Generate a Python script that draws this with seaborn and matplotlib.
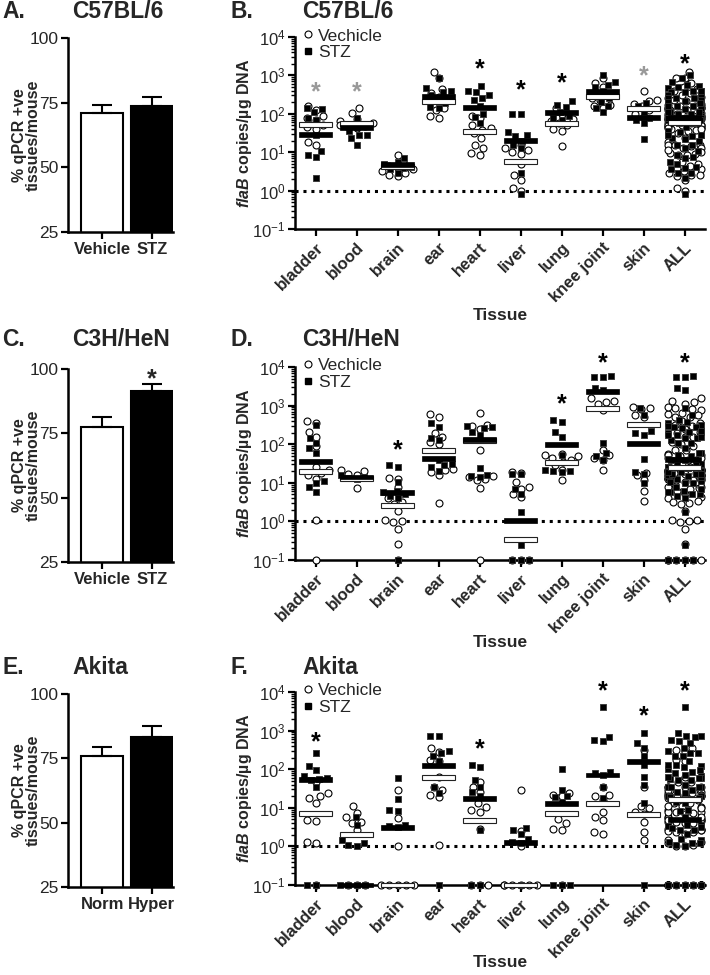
import numpy as np
import pandas as pd
import matplotlib
matplotlib.use('Agg')
import matplotlib.pyplot as plt
import seaborn as sns
from matplotlib.lines import Line2D
from matplotlib.ticker import LogLocator, NullFormatter

sns.set_style('ticks')
plt.rcParams['font.family'] = ['Liberation Sans', 'DejaVu Sans']
plt.rcParams['mathtext.fontset'] = 'custom'
plt.rcParams['mathtext.rm'] = 'Liberation Sans'
plt.rcParams['mathtext.it'] = 'Liberation Sans:italic:bold'
plt.rcParams['mathtext.bf'] = 'Liberation Sans:bold'

tissues = ['bladder', 'blood', 'brain', 'ear', 'heart', 'liver', 'lung', 'knee joint', 'skin']
order = tissues + ['ALL']

# bar panels: mean and SEM of % positive tissues per mouse
ac_groups = ['Vehicle', 'STZ']
e_groups = ['Norm', 'Hyper']
a_mean = [71.1, 73.7]
a_sem = [2.9, 3.4]
c_mean = [77.3, 91.4]
c_sem = [4.2, 2.8]
e_mean = [75.9, 83.4]
e_sem = [3.5, 4.3]

# scatter panels: log10 flaB copies/ug DNA per mouse (-1 = not detected)
b_veh = {
    'bladder': [2.2, 2.1, 1.95, 1.9, 1.85, 1.7, 1.65, 1.6, 1.27, 1.2],
    'blood': [2.14, 2.03, 1.86, 1.8, 1.75, 1.72, 1.68, 1.65, 1.62],
    'brain': [0.93, 0.75, 0.65, 0.6, 0.55, 0.5, 0.45, 0.4, 0.38],
    'ear': [3.1, 2.92, 2.64, 2.55, 2.45, 2.14, 2.1, 1.95, 1.9],
    'heart': [1.95, 1.88, 1.7, 1.62, 1.58, 1.5, 1.36, 1.2, 1.12, 0.97, 0.93],
    'liver': [1.19, 1.12, 1.06, 1.0, 0.95, 0.7, 0.41, 0.28, 0.08, 0.0],
    'lung': [2.16, 2.0, 1.86, 1.8, 1.75, 1.7, 1.6, 1.55, 1.17],
    'knee joint': [2.93, 2.79, 2.7, 2.5, 2.4, 2.35, 2.24, 2.2, 2.15],
    'skin': [2.6, 2.37, 2.33, 2.25, 2.2, 2.1, 2.0, 1.95],
}
b_stz = {
    'bladder': [2.16, 2.12, 2.05, 1.9, 1.85, 1.45, 1.04, 0.94, 0.88, 0.33],
    'blood': [1.88, 1.66, 1.55, 1.46, 1.44, 1.36, 1.2],
    'brain': [0.86, 0.75, 0.68, 0.62, 0.6, 0.55, 0.45],
    'ear': [2.92, 2.66, 2.6, 2.57, 2.5, 2.4, 2.27, 2.18, 2.14],
    'heart': [2.73, 2.6, 2.57, 2.48, 2.42, 2.35, 2.2, 2.0, 1.92, 1.75],
    'liver': [2.0, 2.0, 1.52, 1.45, 1.42, 1.3, 1.2, 1.1, 0.45, -0.08],
    'lung': [2.33, 2.24, 2.18, 2.05, 1.95, 1.88, 1.85],
    'knee joint': [3.0, 2.83, 2.76, 2.7, 2.6, 2.4, 2.31, 2.2, 2.16, 2.05],
    'skin': [2.27, 2.2, 2.05, 1.9, 1.85, 1.75, 1.35],
}
b_veh_med = [1.73, 1.75, 0.62, 2.31, 1.55, 0.75, 1.75, 2.46, 2.14, 1.77]
b_stz_med = [1.45, 1.65, 0.67, 2.44, 2.17, 1.31, 2.03, 2.57, 1.9, 1.9]
b_stars = [(0, 2.73, 'grey'), (1, 2.73, 'grey'), (4, 3.35, 'k'), (5, 2.8, 'k'),
           (6, 2.98, 'k'), (8, 3.15, 'grey'), (9, 3.48, 'k')]

d_veh = {
    'bladder': [2.6, 2.54, 2.32, 2.19, 1.96, 1.4, 1.32, 1.25, 1.2, 1.1, 0.03, -1],
    'blood': [1.34, 1.3, 1.24, 1.2, 0.87],
    'brain': [1.12, 1.1, 0.88, 0.6, 0.5, 0.45, 0.26, 0.03, 0.0, -0.02, -0.2, -0.58, -1],
    'ear': [2.77, 2.71, 2.3, 2.19, 2.06, 2.0, 1.37, 1.33, 1.28, 1.2, 0.48],
    'heart': [2.81, 2.5, 2.48, 2.4, 1.84, 1.17, 1.15, 1.1, 1.07, 0.87, -1],
    'liver': [1.27, 1.25, 1.02, 0.89, 0.85, 0.7, 0.63, -1, -1, -1],
    'lung': [1.75, 1.72, 1.7, 1.65, 1.6, 1.54, 1.45, 1.32, 1.06],
    'knee joint': [3.19, 3.12, 3.1, 3.05, 2.88, 1.86, 1.72, 1.65, 1.6, 1.32],
    'skin': [2.97, 2.93, 2.9, 2.75, 2.7, 1.26, 1.2, 1.06, 0.8, 0.52],
}
d_stz = {
    'bladder': [2.49, 2.16, 2.02, 1.89, 1.77, 1.05, 1.0, 0.89, 0.76],
    'blood': [1.2, 1.15, 1.12, 1.1],
    'brain': [1.45, 1.41, 1.02, 0.8, 0.76, 0.7, 0.65, 0.6, -1],
    'ear': [2.54, 2.45, 2.16, 2.1, 1.6, 1.5, 1.45, 1.4, 1.3],
    'heart': [2.48, 2.45, 2.42, 2.32, 2.25, 1.39, 1.2, 1.18, 1.15],
    'liver': [1.24, 1.22, 0.85, 0.7, 0.24, -0.6, -1, -1, -1],
    'lung': [2.62, 2.58, 2.32, 2.19, 1.71, 1.32, 1.3, 1.28, 1.3],
    'knee joint': [3.77, 3.74, 3.75, 3.45, 3.4, 2.02, 1.76, 1.7, 1.58],
    'skin': [2.93, 2.75, 2.34, 2.28, 2.25, 1.61, 1.28, 1.24, 1.0],
}
d_veh_med = [1.3, 1.12, 0.42, 1.84, 2.1, -0.47, 1.52, 2.93, 2.51, 1.39]
d_stz_med = [1.56, 1.15, 0.76, 1.63, 2.12, 0.03, 2.0, 3.36, 2.02, 1.61]
d_stars = [(2, 2.02, 'k'), (6, 3.21, 'k'), (7, 4.27, 'k'), (9, 4.27, 'k')]

f_veh = {
    'bladder': [1.68, 1.38, 1.3, 1.25, 1.13, 0.68, 0.65, 0.12, 0.08, -1],
    'blood': [1.05, 0.86, 0.75, 0.64, 0.6, 0.42, -1, -1, -1],
    'brain': [1.46, 0.73, 0.0, -1, -1, -1, -1, -1],
    'ear': [2.55, 2.45, 2.25, 2.2, 1.81, 1.55, 1.46, 1.33, 1.27, 0.03],
    'heart': [1.68, 1.55, 1.42, 1.12, 1.03, 0.95, 0.9, 0.44, -1, -1, -1],
    'liver': [1.46, 0.4, 0.0, -1, -1, -1, -1, -1, -1],
    'lung': [1.38, 1.34, 1.3, 0.7, 0.6, 0.45, 0.42, -1],
    'knee joint': [1.55, 1.33, 1.3, 1.2, 0.9, 0.75, 0.68, 0.38, 0.32],
    'skin': [2.5, 1.55, 1.05, 1.0, 0.9, 0.85, 0.64, 0.38, 0.16],
}
f_stz = {
    'bladder': [2.42, 2.09, 1.98, 1.83, 1.78, 1.75, 1.72, 1.55, -1, -1],
    'blood': [0.75, 0.55, 0.16, 0.1, 0.03, 0.02, -1, -1, -1, -1],
    'brain': [1.77, 1.23, 0.94, 0.92, 0.55, 0.52, 0.5],
    'ear': [2.85, 2.87, 2.46, 2.42, 2.35, 2.2, 1.55, 1.38, -1],
    'heart': [2.11, 2.05, 1.71, 1.55, 1.4, 1.3, 0.42, -1, -1],
    'liver': [0.47, 0.42, 0.32, 0.2, 0.12, 0.1, -1],
    'lung': [2.0, 1.46, 1.3, 1.28, 1.15, -1, -1, -1],
    'knee joint': [3.61, 2.83, 2.75, 2.72, 1.94, 1.9, 1.85, 1.53, 1.25],
    'skin': [2.94, 2.68, 2.55, 2.33, 2.1, 1.8, 1.59, 1.12, -1],
}
f_veh_med = [0.86, 0.32, -1, 1.78, 0.67, -1, 0.86, 1.1, 0.82, 1.22]
f_stz_med = [1.74, -1, 0.48, 2.09, 1.23, 0.1, 1.1, 1.85, 2.2, 0.7]
f_stars = [(0, 2.87, 'k'), (4, 2.69, 'k'), (7, 4.19, 'k'), (8, 3.56, 'k'), (9, 4.19, 'k')]

W, H = 710, 975
fig = plt.figure(figsize=(W / 100, H / 100), dpi=100)


def px_axes(left, top, right, bottom):
    return fig.add_axes([left / W, 1 - bottom / H, (right - left) / W, (bottom - top) / H])


def style_axes(ax):
    sns.despine(ax=ax)
    for s in ['left', 'bottom']:
        ax.spines[s].set_linewidth(1.8)
        ax.spines[s].set_color('black')
    ax.tick_params(which='major', length=5, width=1.6, color='black', direction='out')


def bar_panel(ax, groups, mean, sem, star=False):
    sns.barplot(x=groups, y=mean, order=groups, palette=['white', 'black'], hue=groups,
                legend=False, width=0.84, edgecolor='black', linewidth=1.5, ax=ax)
    ax.errorbar(range(2), mean, yerr=[[0, 0], sem], fmt='none', ecolor='black',
                elinewidth=1.5, capsize=7, capthick=1.5)
    ax.set_ylim(25, 100)
    ax.set_xlim(-0.69, 1.43)
    ax.set_yticks([25, 50, 75, 100])
    style_axes(ax)
    ax.tick_params(axis='y', labelsize=12.5, pad=2)
    ax.tick_params(axis='x', labelsize=12, pad=2)
    for lab in ax.get_xticklabels():
        lab.set_fontweight('bold')
    ax.set_ylabel('% qPCR +ve\ntissues/mouse', fontsize=11.5, fontweight='bold',
                  linespacing=0.9)
    ax.yaxis.set_label_coords(-0.26, 0.5)
    ax.set_xlabel('')
    if star:
        ax.annotate('*', xy=(1, 98.5), xytext=(0, -10), textcoords='offset points',
                    ha='center', va='baseline', fontsize=18, fontweight='bold')


def scatter_panel(ax, veh, stz, veh_med, stz_med, stars, xlab_y):
    rows = []
    for t in tissues:
        for v in veh[t]:
            rows.append((t, 'Vechicle', 10 ** v))
        for v in stz[t]:
            rows.append((t, 'STZ', 10 ** v))
    df = pd.DataFrame(rows, columns=['tissue', 'group', 'copies'])
    df = pd.concat([df, df.assign(tissue='ALL')], ignore_index=True)

    ax.set_yscale('log')
    ax.set_ylim(0.1, 1e4)
    sns.swarmplot(data=df[df.group == 'Vechicle'], x='tissue', y='copies', order=order,
                  marker='o', color='white', edgecolor='black', linewidth=0.8, size=5,
                  warn_thresh=1, ax=ax)
    sns.swarmplot(data=df[df.group == 'STZ'], x='tissue', y='copies', order=order,
                  marker='s', color='black', edgecolor='#333333', linewidth=0.6, size=5,
                  warn_thresh=1, ax=ax)
    for c in ax.collections:
        c.set_clip_on(False)
        c.set_zorder(3)
    ax.set_ylim(0.1, 1e4)
    ax.set_xlim(-0.5, 9.5)

    f = 1.16
    vm = 10 ** np.array(veh_med)
    sm = 10 ** np.array(stz_med)
    ax.bar(range(len(order)), vm * f - vm / f, bottom=vm / f, width=0.82, color='white',
           edgecolor='#222222', linewidth=0.8, zorder=4, clip_on=False)
    ax.bar(range(len(order)), sm * f - sm / f, bottom=sm / f, width=0.82, color='black',
           edgecolor='black', linewidth=0.5, zorder=4, clip_on=False)
    ax.axhline(1, color='black', ls=(0, (1, 1.6)), lw=2.2, zorder=1.5)

    for i, y, col in stars:
        ax.annotate('*', xy=(i, 10 ** y), xytext=(0, -10), textcoords='offset points',
                    ha='center', va='baseline', fontsize=18, fontweight='bold',
                    color='#999999' if col == 'grey' else 'black', annotation_clip=False)

    style_axes(ax)
    ax.yaxis.set_major_locator(LogLocator(base=10, numticks=10))
    ax.yaxis.set_minor_locator(LogLocator(base=10, subs=np.arange(2, 10), numticks=10))
    ax.yaxis.set_minor_formatter(NullFormatter())
    ax.tick_params(axis='y', which='minor', length=3, width=1.0, color='black')
    ax.tick_params(axis='y', labelsize=12, pad=2)
    ax.tick_params(axis='x', pad=3)
    ax.set_xticks(range(len(order)))
    ax.set_xticklabels(order, rotation=45, ha='right', rotation_mode='anchor',
                       fontweight='bold', fontsize=12)
    ax.set_ylabel(r'$\mathit{flaB}$ copies/µg DNA', fontsize=11.5, fontweight='bold')
    ax.yaxis.set_label_coords(-0.10, 0.5)
    ax.set_xlabel('Tissue', fontsize=12.5, fontweight='bold')
    ax.xaxis.set_label_coords(0.5, xlab_y)

    handles = [Line2D([], [], marker='o', ls='none', markerfacecolor='white',
                      markeredgecolor='black', markersize=5, markeredgewidth=0.8),
               Line2D([], [], marker='s', ls='none', markerfacecolor='black',
                      markeredgecolor='black', markersize=4.5)]
    ax.legend(handles, ['Vechicle', 'STZ'], loc='upper left', bbox_to_anchor=(0.02, 1.045),
              frameon=False, fontsize=12.5, handlelength=0.6, handletextpad=0.25,
              borderpad=0, borderaxespad=0, labelspacing=0.1)


ax_a = px_axes(68, 38, 173, 232)
ax_c = px_axes(68, 369, 173, 562)
ax_e = px_axes(68, 694, 173, 887)
ax_b = px_axes(295, 37, 705, 229)
ax_d = px_axes(295, 367, 705, 560)
ax_f = px_axes(295, 692, 705, 885)

bar_panel(ax_a, ac_groups, a_mean, a_sem)
bar_panel(ax_c, ac_groups, c_mean, c_sem, star=True)
bar_panel(ax_e, e_groups, e_mean, e_sem)
scatter_panel(ax_b, b_veh, b_stz, b_veh_med, b_stz_med, b_stars, -0.41)
scatter_panel(ax_d, d_veh, d_stz, d_veh_med, d_stz_med, d_stars, -0.39)
scatter_panel(ax_f, f_veh, f_stz, f_veh_med, f_stz_med, f_stars, -0.365)

titles = [(2, 12, 'A.', 72, 'C57BL/6'), (230, 12, 'B.', 302, 'C57BL/6'),
          (2, 340, 'C.', 72, 'C3H/HeN'), (230, 340, 'D.', 302, 'C3H/HeN'),
          (2, 668, 'E.', 72, 'Akita'), (230, 668, 'F.', 302, 'Akita')]
for x1, y, lab, x2, name in titles:
    fig.text(x1 / W, 1 - y / H, lab, fontsize=16.5, fontweight='bold', va='center')
    fig.text(x2 / W, 1 - y / H, name, fontsize=16.5, fontweight='bold', va='center')

fig.savefig('out.png', dpi=100)
